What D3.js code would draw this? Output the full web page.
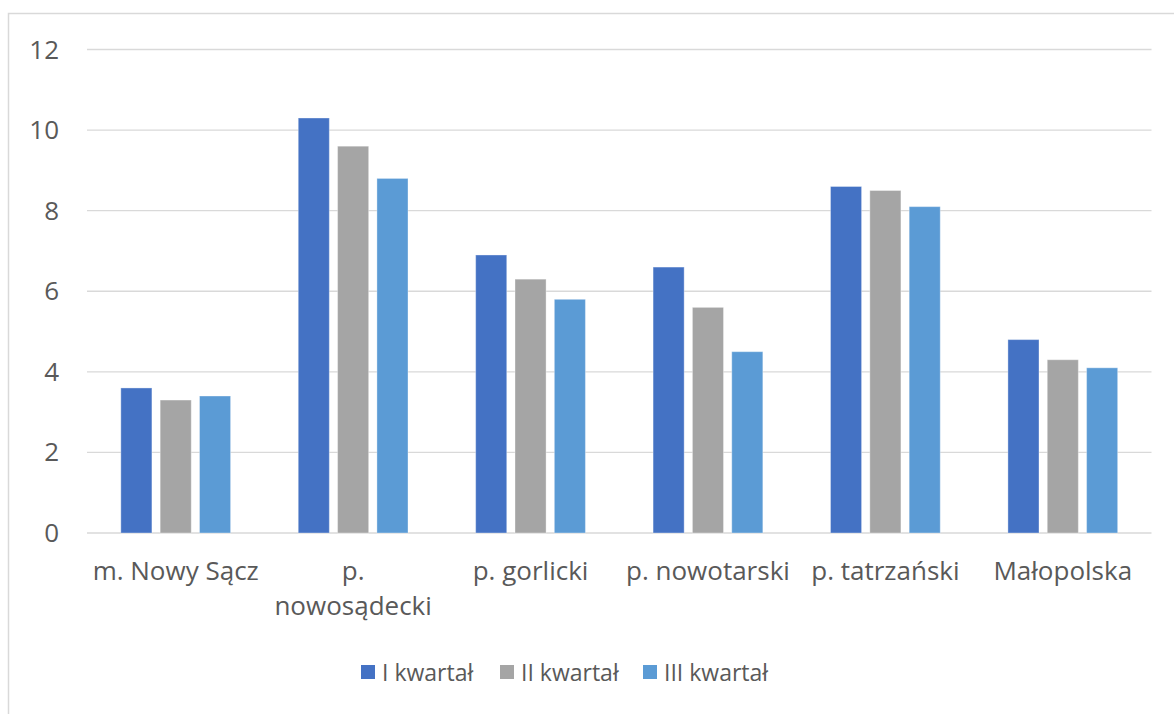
<!DOCTYPE html>
<html>
<head>
<meta charset="utf-8">
<script src="https://cdnjs.cloudflare.com/ajax/libs/d3/7.8.5/d3.min.js"></script>
<style>
  body { margin: 0; background: #fff; }
  svg text { font-family: "Open Sans", sans-serif; fill: #595959; }
</style>
</head>
<body>
<svg id="chart"></svg>
<script>
var categories = [['m. Nowy Sącz'], ['p.', 'nowosądecki'], ['p. gorlicki'], ['p. nowotarski'], ['p. tatrzański'], ['Małopolska']];
var seriesNames = ['I kwartał', 'II kwartał', 'III kwartał'];
var seriesColors = ['#4472C4', '#A5A5A5', '#5B9BD5'];
var q1 = [3.6, 10.3, 6.9, 6.6, 8.6, 4.8];
var q2 = [3.3, 9.6, 6.3, 5.6, 8.5, 4.3];
var q3 = [3.4, 8.8, 5.8, 4.5, 8.1, 4.1];
var yTicks = [0, 2, 4, 6, 8, 10, 12];

var width = 1174;
var height = 714;
var plotLeft = 87, plotRight = 1151.5, plotTop = 49.5, plotBottom = 533;
var axisFont = 26; // tick + category labels
var legendFont = 23;

var svg = d3.select('#chart').attr('width', width).attr('height', height);

// outer frame
svg.append('rect')
   .attr('x', 8.5).attr('y', 13.5)
   .attr('width', 1180).attr('height', 720)
   .attr('fill', 'none').attr('stroke', '#D9D9D9').attr('stroke-width', 1.5);

var x = d3.scaleBand().domain(d3.range(categories.length)).range([plotLeft, plotRight]);
var xs = d3.scaleBand().domain(d3.range(3)).range([0, x.bandwidth()]).paddingInner(0.21).paddingOuter(0.86);
var y = d3.scaleLinear().domain([0, 12]).range([plotBottom, plotTop]);

// gridlines
svg.selectAll('line.grid')
   .data(yTicks)
   .enter()
   .append('line')
   .attr('class', 'grid')
   .attr('x1', plotLeft).attr('x2', plotRight)
   .attr('y1', function(d){ return y(d); })
   .attr('y2', function(d){ return y(d); })
   .attr('stroke', '#D9D9D9').attr('stroke-width', 1.3);

svg.selectAll('text.ytick')
   .data(yTicks)
   .enter()
   .append('text')
   .attr('class', 'ytick')
   .attr('x', 59)
   .attr('y', function(d){ return y(d) + 9; })
   .attr('text-anchor', 'end')
   .style('font-size', axisFont + 'px')
   .text(function(d){ return d; });

var series = [q1, q2, q3];
series.forEach(function(vals, s){
  svg.selectAll('rect.s' + s)
     .data(vals)
     .enter()
     .append('rect')
     .attr('class', 's' + s)
     .attr('x', function(d, i){ return x(i) + xs(s); })
     .attr('y', function(d){ return y(d); })
     .attr('width', xs.bandwidth())
     .attr('height', function(d){ return y(0) - y(d); })
     .attr('fill', seriesColors[s])
     .attr('stroke', '#fff').attr('stroke-opacity', 0.35).attr('stroke-width', 1);
});

// category labels
var labels = svg.selectAll('text.cat')
   .data(categories)
   .enter()
   .append('text')
   .attr('class', 'cat')
   .attr('text-anchor', 'middle')
   .style('font-size', axisFont + 'px');

labels.selectAll('tspan')
   .data(function(d, i){ return d.map(function(t){ return {t: t, i: i}; }); })
   .enter()
   .append('tspan')
   .attr('x', function(d){ return x(d.i) + x.bandwidth() / 2; })
   .attr('y', function(d, j){ return 580 + j * 35; })
   .text(function(d){ return d.t; });

// legend
var legendX = [361, 500, 643];
var legend = svg.selectAll('g.legend')
   .data(seriesNames)
   .enter()
   .append('g')
   .attr('class', 'legend')
   .attr('transform', function(d, i){ return 'translate(' + legendX[i] + ',665)'; });

legend.append('rect')
   .attr('width', 14).attr('height', 14)
   .attr('y', 0)
   .attr('fill', function(d, i){ return seriesColors[i]; });

legend.append('text')
   .attr('x', 21).attr('y', 16)
   .style('font-size', legendFont + 'px')
   .text(function(d){ return d; });
</script>
</body>
</html>
